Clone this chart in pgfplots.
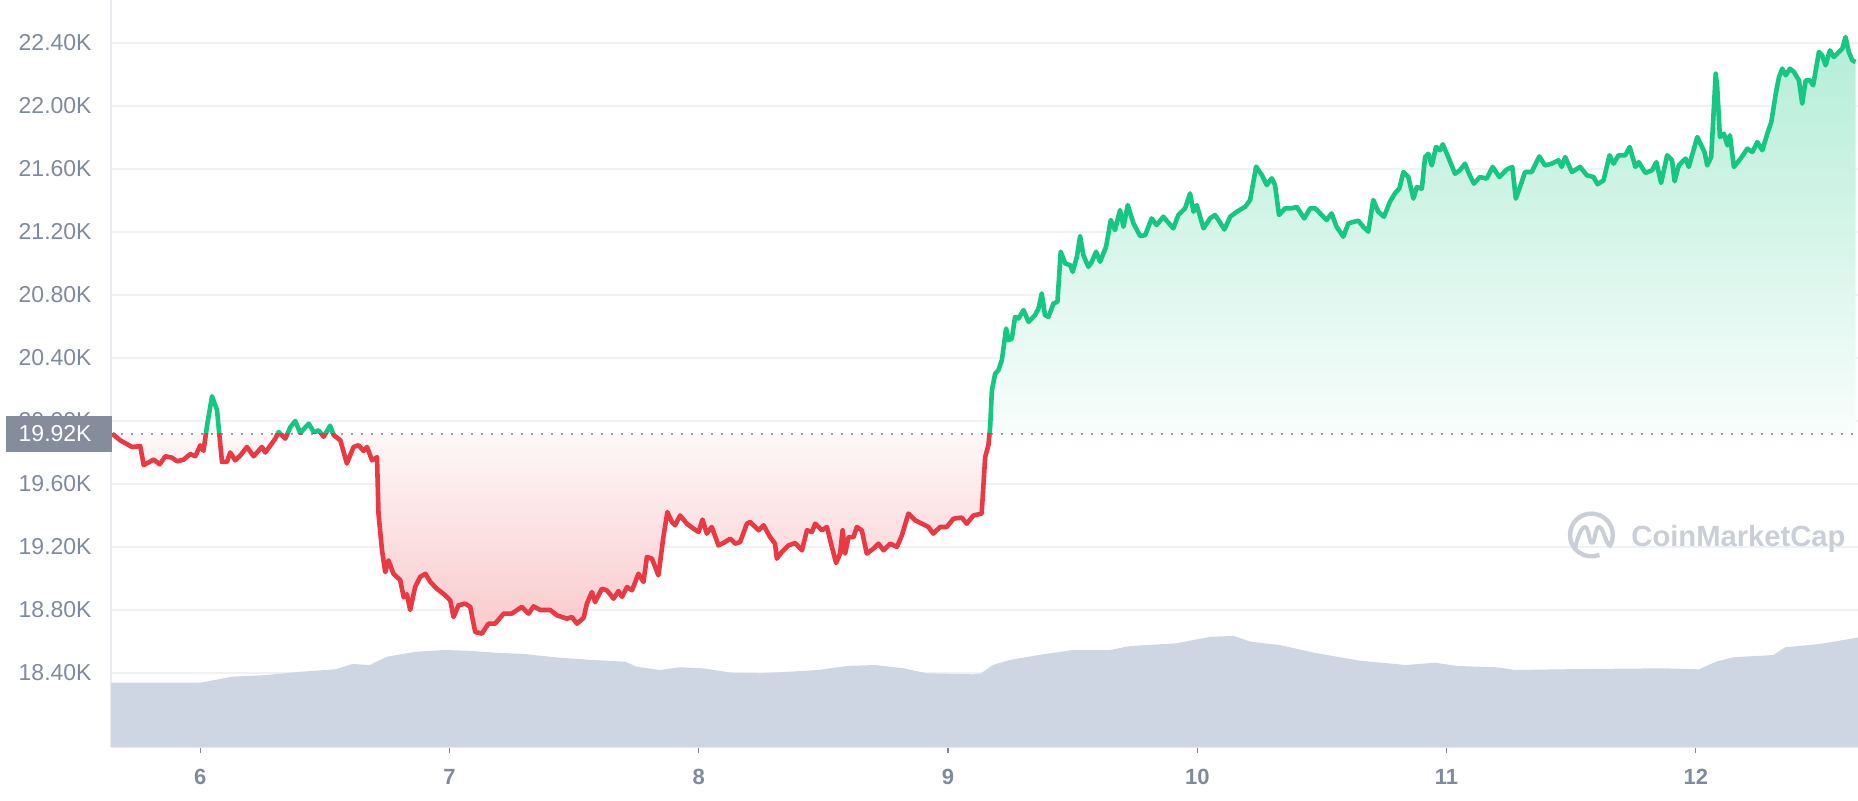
\documentclass[border=0pt]{standalone}
\usepackage{fontspec}
\setmainfont{Liberation Sans}
\usepackage{pgfplots}
\pgfplotsset{compat=1.18}
\usepackage{pgfplotstable}

\definecolor{cmcgreen}{RGB}{22,199,132}
\definecolor{cmcred}{RGB}{234,57,67}
\definecolor{gridgrey}{RGB}{239,242,245}
\definecolor{axisgrey}{RGB}{232,235,240}
\definecolor{labelgrey}{RGB}{128,138,157}
\definecolor{boxgrey}{RGB}{133,140,156}
\definecolor{volgrey}{RGB}{207,214,227}
\definecolor{dotgrey}{RGB}{150,158,175}
\definecolor{wmgrey}{RGB}{201,206,215}
\colorlet{gtop}{cmcgreen!32}
\colorlet{gbot}{cmcgreen!3}
\colorlet{rbot}{cmcred!27}
\colorlet{rtop}{cmcred!4}
\pgfdeclareverticalshading{greenfade}{100bp}{color(0bp)=(white); color(41.7bp)=(gbot); color(75bp)=(gtop); color(100bp)=(gtop)}
\pgfdeclareverticalshading{redfade}{100bp}{color(0bp)=(rbot); color(25bp)=(rbot); color(41.8bp)=(rtop); color(100bp)=(white)}

\pgfplotstableread{
x y
5.646 19.920
5.679 19.877
5.726 19.835
5.759 19.840
5.773 19.720
5.813 19.755
5.837 19.725
5.860 19.776
5.886 19.767
5.907 19.744
5.933 19.755
5.960 19.790
5.980 19.776
6.000 19.845
6.013 19.810
6.027 19.970
6.047 20.157
6.067 20.070
6.087 19.740
6.107 19.740
6.120 19.800
6.140 19.750
6.160 19.780
6.187 19.835
6.214 19.776
6.247 19.835
6.261 19.800
6.301 19.888
6.314 19.930
6.341 19.888
6.361 19.960
6.381 20.000
6.401 19.924
6.435 19.983
6.455 19.930
6.475 19.940
6.495 19.900
6.521 19.970
6.535 19.910
6.562 19.877
6.588 19.730
6.615 19.835
6.635 19.846
6.655 19.810
6.669 19.835
6.689 19.750
6.709 19.770
6.715 19.410
6.729 19.180
6.742 19.040
6.755 19.115
6.775 19.030
6.802 18.990
6.816 18.880
6.829 18.900
6.842 18.800
6.862 18.946
6.882 19.010
6.903 19.030
6.923 18.978
6.949 18.935
6.983 18.893
7.003 18.860
7.016 18.755
7.036 18.830
7.063 18.840
7.083 18.820
7.103 18.660
7.130 18.650
7.156 18.713
7.183 18.713
7.217 18.777
7.250 18.777
7.290 18.820
7.317 18.777
7.337 18.823
7.364 18.800
7.404 18.800
7.431 18.766
7.471 18.745
7.491 18.755
7.511 18.713
7.538 18.750
7.551 18.840
7.571 18.914
7.584 18.850
7.611 18.935
7.631 18.925
7.658 18.872
7.678 18.920
7.692 18.883
7.712 18.946
7.732 18.925
7.758 19.030
7.778 18.978
7.792 19.137
7.812 19.126
7.838 19.020
7.858 19.263
7.874 19.422
7.892 19.359
7.905 19.338
7.925 19.400
7.952 19.348
7.979 19.316
7.999 19.295
8.015 19.374
8.032 19.285
8.052 19.327
8.079 19.210
8.106 19.232
8.126 19.253
8.146 19.221
8.166 19.232
8.193 19.348
8.206 19.359
8.240 19.306
8.260 19.338
8.286 19.263
8.306 19.221
8.313 19.126
8.333 19.168
8.360 19.210
8.387 19.225
8.414 19.179
8.434 19.306
8.454 19.295
8.467 19.348
8.494 19.306
8.514 19.327
8.534 19.200
8.551 19.098
8.567 19.158
8.577 19.306
8.587 19.158
8.601 19.263
8.621 19.263
8.634 19.327
8.654 19.306
8.674 19.158
8.701 19.190
8.721 19.221
8.741 19.179
8.768 19.221
8.795 19.200
8.815 19.274
8.841 19.412
8.868 19.369
8.895 19.348
8.921 19.327
8.941 19.285
8.968 19.327
8.995 19.327
9.022 19.380
9.055 19.386
9.075 19.348
9.102 19.400
9.135 19.412
9.149 19.770
9.162 19.846
9.169 19.962
9.176 20.195
9.189 20.300
9.202 20.322
9.216 20.386
9.233 20.587
9.243 20.513
9.256 20.524
9.269 20.661
9.283 20.651
9.303 20.704
9.323 20.629
9.349 20.672
9.363 20.714
9.376 20.810
9.389 20.672
9.403 20.661
9.423 20.746
9.439 20.757
9.452 21.075
9.470 21.000
9.490 20.990
9.500 20.947
9.517 21.043
9.530 21.174
9.543 21.053
9.563 20.979
9.577 21.011
9.594 21.075
9.610 21.011
9.634 21.106
9.653 21.276
9.670 21.212
9.690 21.339
9.704 21.233
9.721 21.371
9.744 21.255
9.771 21.174
9.791 21.180
9.817 21.286
9.837 21.244
9.864 21.297
9.884 21.259
9.904 21.223
9.924 21.308
9.951 21.350
9.971 21.445
9.985 21.329
9.998 21.371
10.025 21.223
10.051 21.286
10.071 21.308
10.085 21.276
10.109 21.216
10.132 21.297
10.159 21.329
10.192 21.360
10.212 21.403
10.236 21.615
10.259 21.562
10.279 21.498
10.299 21.541
10.312 21.498
10.328 21.308
10.352 21.350
10.379 21.350
10.399 21.360
10.429 21.286
10.453 21.350
10.473 21.350
10.493 21.318
10.519 21.276
10.539 21.318
10.559 21.233
10.586 21.170
10.606 21.255
10.646 21.272
10.666 21.233
10.686 21.202
10.706 21.403
10.726 21.329
10.749 21.297
10.773 21.392
10.793 21.445
10.811 21.477
10.827 21.581
10.847 21.549
10.867 21.412
10.881 21.486
10.901 21.475
10.914 21.676
10.927 21.697
10.941 21.623
10.958 21.740
10.974 21.719
10.985 21.757
11.007 21.676
11.034 21.570
11.054 21.592
11.074 21.634
11.087 21.581
11.110 21.507
11.134 21.549
11.161 21.539
11.185 21.613
11.212 21.549
11.241 21.596
11.264 21.613
11.278 21.412
11.295 21.486
11.315 21.581
11.342 21.581
11.372 21.680
11.395 21.623
11.422 21.634
11.449 21.655
11.462 21.613
11.476 21.676
11.503 21.581
11.536 21.613
11.563 21.560
11.590 21.549
11.606 21.503
11.630 21.528
11.654 21.687
11.670 21.634
11.690 21.687
11.717 21.687
11.735 21.740
11.758 21.613
11.771 21.644
11.798 21.575
11.825 21.592
11.842 21.644
11.861 21.511
11.885 21.687
11.905 21.655
11.915 21.522
11.932 21.623
11.959 21.666
11.972 21.613
12.006 21.803
12.035 21.708
12.046 21.623
12.062 21.676
12.080 22.205
12.086 22.121
12.097 21.803
12.113 21.824
12.127 21.750
12.137 21.814
12.153 21.613
12.180 21.666
12.207 21.729
12.227 21.708
12.247 21.771
12.267 21.719
12.287 21.824
12.303 21.898
12.321 22.078
12.334 22.184
12.347 22.237
12.361 22.195
12.378 22.237
12.394 22.216
12.414 22.163
12.427 22.015
12.441 22.163
12.458 22.163
12.471 22.131
12.494 22.343
12.507 22.322
12.521 22.258
12.538 22.353
12.554 22.311
12.574 22.343
12.588 22.364
12.601 22.438
12.614 22.343
12.628 22.290
12.641 22.279
}\pricetab

\pgfplotstableread{
x v
5.642 64.3
6.001 64.3
6.127 70.3
6.266 72.0
6.404 75.3
6.542 77.7
6.611 83.0
6.680 82.0
6.749 90.3
6.864 95.3
6.980 97.0
7.072 96.3
7.187 94.3
7.302 93.0
7.440 89.3
7.578 87.0
7.705 85.3
7.751 80.3
7.843 77.0
7.924 79.7
8.016 78.7
8.132 74.3
8.247 73.7
8.362 75.3
8.477 77.0
8.592 81.0
8.707 82.0
8.823 78.7
8.914 73.7
9.099 72.7
9.133 73.7
9.179 82.0
9.248 87.0
9.363 92.0
9.501 97.0
9.650 97.0
9.731 101.0
9.915 103.7
10.054 110.3
10.146 111.0
10.215 105.3
10.331 102.0
10.469 94.3
10.653 86.3
10.837 82.0
10.953 84.3
11.045 81.0
11.206 79.7
11.275 77.0
11.459 77.7
11.689 78.3
11.874 78.7
12.012 77.7
12.081 85.3
12.150 89.7
12.311 92.0
12.358 99.7
12.496 103.0
12.651 109.5
}\voltab

\begin{document}
\begin{tikzpicture}
\pgfplotsset{base/.style={scale only axis, width=873.5pt, height=373.5pt,
  xmin=5.6417, xmax=12.651, at={(0,0)}, anchor=south west}}

% frame, grid, ticks
\begin{axis}[base, ymin=17.93, ymax=22.673,
  axis x line*=bottom, axis y line*=left,
  x axis line style={-, draw=axisgrey, line width=1pt},
  y axis line style={-, draw=axisgrey, line width=1pt},
  ymajorgrids, grid style={draw=gridgrey, line width=0.8pt},
  tick align=outside, major tick length=3pt,
  xtick={6,7,8,9,10,11,12}, xticklabels={6,7,8,9,10,11,12},
  ytick={18.4,18.8,19.2,19.6,20.0,20.4,20.8,21.2,21.6,22.0,22.4},
  yticklabels={18.40K,18.80K,19.20K,19.60K,20.00K,20.40K,20.80K,21.20K,21.60K,22.00K,22.40K},
  xtick style={draw=labelgrey, line width=0.7pt},
  ytick style={draw=none},
  yticklabel style={anchor=east, inner sep=0pt, xshift=-6.5pt, text=labelgrey,
    font=\fontsize{11.5}{13}\selectfont},
  xticklabel style={anchor=base, inner sep=0pt, yshift=-15.5pt, text=labelgrey,
    font=\bfseries\fontsize{11}{13}\selectfont},
  /pgf/number format/assume math mode=true]
\addplot[draw=none, forget plot] coordinates {(6,20) (12,21)};
\end{axis}

% volume
\begin{axis}[base, ymin=0, ymax=747, hide axis]
\addplot[fill=volgrey, draw=none] table[x=x, y=v] {\voltab} \closedcycle;
\end{axis}

% price
\begin{axis}[base, ymin=17.93, ymax=22.673, hide axis]
\begin{scope}
\clip (axis cs:5.5,19.92) rectangle (axis cs:12.8,23);
\addplot[draw=none, shade, shading=greenfade] table[x=x, y=y] {\pricetab}
  -- (axis cs:12.641,19.92) -- (axis cs:5.646,19.92) -- cycle;
\end{scope}
\begin{scope}
\clip (axis cs:5.5,17.5) rectangle (axis cs:12.8,19.92);
\addplot[draw=none, shade, shading=redfade] table[x=x, y=y] {\pricetab}
  -- (axis cs:12.641,19.92) -- (axis cs:5.646,19.92) -- cycle;
\end{scope}
\draw[dotgrey, line width=1pt, dash pattern=on 1pt off 4pt]
  (axis cs:5.6417,19.92) -- (axis cs:12.651,19.92);
\begin{scope}
\clip (axis cs:5.5,19.92) rectangle (axis cs:12.8,23);
\addplot[cmcgreen, line width=2.3pt, line join=round] table[x=x, y=y] {\pricetab};
\end{scope}
\begin{scope}
\clip (axis cs:5.5,17.5) rectangle (axis cs:12.8,19.92);
\addplot[cmcred, line width=2.3pt, line join=round] table[x=x, y=y] {\pricetab};
\end{scope}
\end{axis}

% current price marker
\fill[boxgrey] (-52.5pt,147.7pt) rectangle (0.5pt,165.7pt);
\node[anchor=east, inner sep=0pt, text=white, font=\fontsize{11.5}{13}\selectfont]
  at (-9.5pt,156.7pt) {19.92K};

% watermark
\draw[wmgrey, line width=2.2pt] (740.2pt,106pt) ++(-35:10.7pt) arc (-35:292:10.7pt);
\draw[wmgrey, line width=2pt, line cap=round, line join=round]
  (732pt,99pt) .. controls (733pt,104pt) and (735pt,110pt) .. (737pt,110pt)
  .. controls (739pt,110pt) and (739pt,102pt) .. (740.5pt,102pt)
  .. controls (742pt,102pt) and (742pt,110pt) .. (744pt,110pt)
  .. controls (746pt,110pt) and (747pt,103pt) .. (749pt,101pt);
\node[anchor=base west, inner sep=0pt, text=wmgrey, font=\bfseries\fontsize{14.6}{16}\selectfont]
  at (760pt,100.2pt) {CoinMarketCap};

\pgfresetboundingbox
\useasboundingbox (-55.5pt,-26.5pt) rectangle (873.5pt,373.5pt);
\end{tikzpicture}
\end{document}
